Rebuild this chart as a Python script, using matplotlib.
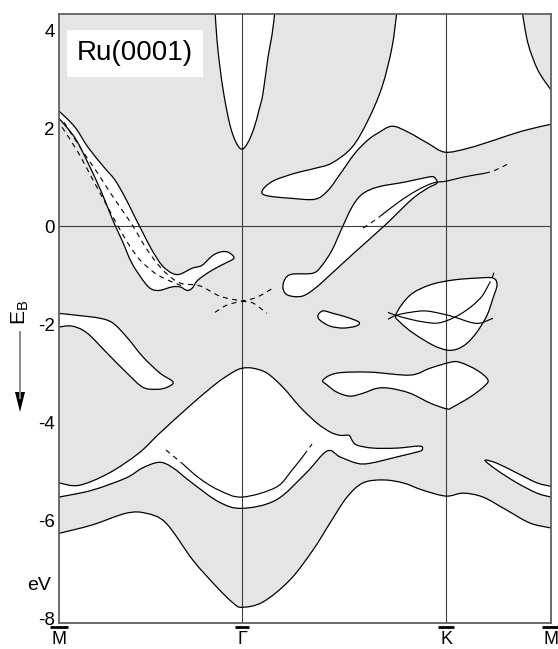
import numpy as np
import matplotlib
matplotlib.use('Agg')
import matplotlib.pyplot as plt
from matplotlib.path import Path
from matplotlib.patches import PathPatch, Rectangle, Polygon
from matplotlib.lines import Line2D
import matplotlib.transforms as mtrans

plt.rcParams['font.family'] = ['Liberation Sans', 'DejaVu Sans']
plt.rcParams['axes.unicode_minus'] = False
plt.rcParams['mathtext.fontset'] = 'custom'
plt.rcParams['mathtext.rm'] = 'Liberation Sans'
plt.rcParams['mathtext.it'] = 'Liberation Sans:italic'
plt.rcParams['mathtext.bf'] = 'Liberation Sans:bold'

# ---------------- data (k: distance along M-G-K-M path, arb. units; E: eV) ----
k_ticks = [0, 183, 387, 492]
k_labels = ['M', '\u0393', 'K', 'M']
E_ticks = [4, 2, 0, -2, -4, -6, -8]
E_lim = (-8.10, 4.33)

# white gap: parabola at Gamma (top)
gam_k = [156, 158, 161, 165, 171, 177, 183, 189, 195, 200, 204, 209, 213, 216]
gam_E = [4.40, 3.80, 3.24, 2.67, 2.06, 1.71, 1.57, 1.71, 2.00, 2.37, 2.71, 3.45, 3.90, 4.40]

# gray corner top-right (boundary)
tr_k = [463, 469, 479, 492]
tr_E = [4.40, 3.73, 3.18, 2.78]

# large white gap upper right: lower boundary
b_k = [338, 333, 323, 309, 293, 273, 256, 236, 216, 206, 203, 211, 231, 256, 269, 281,
       296, 309, 319, 333, 349, 369, 386, 409, 436, 463, 492]
b_E = [4.40, 3.65, 2.84, 2.16, 1.61, 1.29, 1.18, 1.08, 0.94, 0.80, 0.67, 0.61, 0.57, 0.55,
       0.73, 1.06, 1.49, 1.76, 1.90, 2.04, 1.92, 1.69, 1.51, 1.59, 1.76, 1.94, 2.08]

# tube from M (upper edge then lower edge)
tube_k = [0, 16, 29, 46, 56, 66, 76, 84, 93, 103, 113, 121, 133, 143, 153, 161, 169, 175,
          166, 153, 139, 133, 128, 121, 113, 101, 93, 86, 73, 63, 53, 43, 29, 16, 0]
tube_E = [2.35, 2.02, 1.61, 1.18, 0.94, 0.59, 0.18, -0.14, -0.49, -0.80, -0.96, -0.98,
          -0.86, -0.80, -0.61, -0.53, -0.53, -0.65,
          -0.76, -0.90, -1.10, -1.27, -1.31, -1.24, -1.24, -1.31, -1.29, -1.16, -0.76,
          -0.29, 0.16, 0.67, 1.29, 1.80, 2.20]

# dashed bands
d1_k = [5, 23, 38, 51, 63, 74, 84, 94, 106, 121, 141, 161, 183, 194, 208]
d1_E = [2.12, 1.55, 1.10, 0.69, 0.33, 0.00, -0.35, -0.65, -0.94, -1.16, -1.22, -1.43,
        -1.53, -1.57, -1.78]
d3_k = [3, 19, 33, 46, 58, 69, 81, 96, 111, 126]
d3_E = [2.02, 1.51, 0.98, 0.49, 0.04, -0.35, -0.69, -0.96, -1.12, -1.24]
d2_k = [156, 168, 183, 198, 216]
d2_E = [-1.76, -1.61, -1.53, -1.45, -1.24]

# fish-shaped gap between Gamma and K
fish_k = [224, 226, 233, 254, 263, 273, 283, 293, 303, 319, 346, 369, 375, 378, 369, 353,
          326, 296, 273, 256, 243, 229]
fish_E = [-1.27, -1.08, -0.98, -0.96, -0.80, -0.49, -0.04, 0.39, 0.65, 0.80, 0.90, 1.00,
          1.00, 0.88, 0.78, 0.55, 0.02, -0.53, -0.96, -1.27, -1.43, -1.41]

# surface state in fish gap
l1a_k = [304, 313, 321]
l1a_E = [-0.04, 0.08, 0.20]
l1_k = [321, 341, 358, 374, 388, 404, 426]
l1_E = [0.20, 0.51, 0.73, 0.88, 0.92, 1.00, 1.08]
l1b_k = [426, 436, 449]
l1b_E = [1.08, 1.14, 1.27]

# small elliptic gap
ell_k = [259, 264, 274, 288, 300, 297, 284, 271, 261]
ell_E = [-1.82, -1.73, -1.78, -1.86, -1.96, -2.04, -2.08, -2.04, -1.92]

# S1 pocket around K
s1_k = [337, 351, 371, 394, 418, 434, 438, 434, 428, 418, 408, 398, 388, 374, 354, 341]
s1_E = [-1.80, -1.41, -1.20, -1.10, -1.06, -1.06, -1.20, -1.47, -1.82, -2.16, -2.39,
        -2.51, -2.53, -2.43, -2.18, -1.96]
s1a_k = [329, 337, 351, 366, 378, 389, 401, 413, 423, 429]
s1a_E = [-1.76, -1.82, -1.90, -1.96, -1.98, -1.92, -1.80, -1.63, -1.43, -1.22]
s1ad_k = [429, 433, 435]
s1ad_E = [-1.22, -1.06, -0.94]
s1b_k = [329, 337, 351, 366, 381, 396, 411, 421, 434]
s1b_E = [-1.90, -1.82, -1.76, -1.73, -1.78, -1.86, -1.96, -1.98, -1.88]

# gap at M around -2.5 eV
g_k = [0, 18, 41, 54, 68, 84, 101, 114, 108, 98, 84, 68, 48, 28, 13, 0]
g_E = [-1.78, -1.82, -1.88, -1.98, -2.27, -2.67, -3.00, -3.18, -3.29, -3.33, -3.29,
       -3.00, -2.59, -2.18, -2.04, -2.06]

# island gap near K around -3.2 eV
isl_k = [264, 278, 311, 351, 371, 391, 401, 418, 429, 424, 411, 394, 388, 371, 351, 331,
         318, 304, 291, 278, 268]
isl_E = [-3.14, -3.00, -2.98, -3.04, -2.90, -2.78, -2.78, -2.94, -3.14, -3.29, -3.49,
         -3.69, -3.73, -3.61, -3.41, -3.31, -3.31, -3.41, -3.47, -3.39, -3.24]

# big gap around Gamma (-3 .. -5.8 eV)
h_k = [0, 20, 50, 80, 101, 134, 158, 174, 183, 194, 208, 224, 241, 258, 271, 281, 290, 293,
       298, 314, 338, 361, 363,
       358, 338, 311, 298, 281, 268, 247, 217, 183, 160, 133, 113, 100, 83, 67, 33, 0]
h_E = [-5.24, -5.29, -5.04, -4.63, -4.22, -3.61, -3.20, -2.98, -2.90, -2.90, -3.00, -3.29,
       -3.69, -4.02, -4.20, -4.27, -4.27, -4.37, -4.47, -4.53, -4.53, -4.49, -4.57,
       -4.61, -4.71, -4.84, -4.84, -4.71, -4.59, -5.04, -5.59, -5.76, -5.63, -5.24, -4.92,
       -4.82, -4.94, -5.14, -5.39, -5.53]

# S2 surface state
s2a_k = [107, 123]
s2a_E = [-4.57, -4.84]
s2_k = [123, 140, 160, 183, 217, 233, 245]
s2_E = [-4.84, -5.14, -5.39, -5.53, -5.33, -4.98, -4.67]
s2b_k = [245, 253]
s2b_E = [-4.67, -4.45]

# bottom of the projected bulk bands
bot_k = [0, 33, 67, 87, 107, 134, 158, 174, 183, 204, 231, 254, 271, 288, 304, 324, 344,
         364, 387, 404, 424, 448, 471, 492]
bot_E = [-6.27, -6.10, -5.86, -5.86, -6.06, -6.82, -7.37, -7.69, -7.78, -7.67, -7.22,
         -6.61, -6.06, -5.53, -5.24, -5.18, -5.24, -5.39, -5.51, -5.45, -5.53, -5.80,
         -6.06, -6.16]

# tongue gap at right M
rt_k = [492, 478, 458, 438, 426, 438, 458, 478, 492]
rt_E = [-5.31, -5.24, -5.04, -4.84, -4.78, -4.98, -5.24, -5.45, -5.53]

# ---------------- helpers ----------------
def curve(k, E, closed=False):
    P = np.column_stack([k, E]).astype(float)
    n = len(P)
    verts = [P[0]]
    codes = [Path.MOVETO]
    segs = n if closed else n - 1
    for i in range(segs):
        p1 = P[i % n]
        p2 = P[(i + 1) % n]
        if closed:
            p0 = P[(i - 1) % n]
            p3 = P[(i + 2) % n]
        else:
            p0 = P[i - 1] if i > 0 else p1
            p3 = P[i + 2] if i + 2 < n else p2
        c1 = p1 + (p2 - p0) / 6.0
        c2 = p2 - (p3 - p1) / 6.0
        verts += [c1, c2, p2]
        codes += [Path.CURVE4] * 3
    return verts, codes


def closepath(v, c):
    return v + [v[0]], c + [Path.CLOSEPOLY]


GRAY = '#e4e5e7'
LW = 0.9

fig = plt.figure(figsize=(5.58, 6.49), dpi=100)
ax = fig.add_axes([59 / 558, 26 / 649, 492 / 558, 609 / 649])
ax.set_facecolor(GRAY)
ax.set_xlim(k_ticks[0], k_ticks[-1])
ax.set_ylim(*E_lim)


def fill(v, c):
    ax.add_patch(PathPatch(Path(v, c), fc='white', ec='none', lw=0, zorder=1))


def outline(v, c, ls='-', lw=LW):
    ax.add_patch(PathPatch(Path(v, c), fc='none', ec='black', lw=lw, ls=ls,
                           zorder=3, capstyle='butt', joinstyle='round'))


DASH = (0, (4.5, 4.0))

# Gamma parabola
v, c = curve(gam_k, gam_E)
fill(*closepath(v, c))
outline(v, c)

# big upper-right gap
v1, c1 = curve(b_k, b_E)
v2, c2 = curve(tr_k[::-1], tr_E[::-1])
c2 = [Path.LINETO] + c2[1:]
fill(v1 + v2 + [v1[0]], c1 + c2 + [Path.CLOSEPOLY])
outline(v1, c1)
outline(*curve(tr_k, tr_E))

# gaps touching the frame
for kk, ee in [(tube_k, tube_E), (g_k, g_E), (h_k, h_E), (rt_k, rt_E)]:
    v, c = curve(kk, ee)
    fill(*closepath(v, c))
    outline(v, c)

# islands
for kk, ee in [(fish_k, fish_E), (ell_k, ell_E), (s1_k, s1_E), (isl_k, isl_E)]:
    v, c = curve(kk, ee, closed=True)
    v, c = closepath(v, c)
    fill(v, c)
    outline(v, c)

# bottom white
v, c = curve(bot_k, bot_E)
vb = v + [np.array([bot_k[-1], E_lim[0] - 1]), np.array([bot_k[0], E_lim[0] - 1]), v[0]]
cb = c + [Path.LINETO, Path.LINETO, Path.CLOSEPOLY]
fill(vb, cb)
outline(v, c)

# surface states (solid) and dashed lines
for kk, ee in [(l1_k, l1_E), (s1a_k, s1a_E), (s1b_k, s1b_E), (s2_k, s2_E)]:
    outline(*curve(kk, ee), lw=0.85)
for kk, ee in [(d1_k, d1_E), (d3_k, d3_E), (d2_k, d2_E), (l1a_k, l1a_E), (l1b_k, l1b_E),
               (s1ad_k, s1ad_E), (s2a_k, s2a_E), (s2b_k, s2b_E)]:
    outline(*curve(kk, ee), ls=DASH, lw=0.8)

# reference lines
for kx in k_ticks[1:3]:
    ax.axvline(kx, color='#3c3c3c', lw=0.8, zorder=2)
ax.axhline(0, color='#3c3c3c', lw=0.8, zorder=2)

# axes styling
for s in ax.spines.values():
    s.set_color('#606060')
    s.set_linewidth(1.3)
    s.set_zorder(6)
ax.set_yticks(E_ticks)
ax.set_yticklabels([str(t) for t in E_ticks])
ax.tick_params(axis='y', length=0, pad=3, labelsize=13.5)
ax.set_xticks(k_ticks)
ax.set_xticklabels(k_labels)
ax.tick_params(axis='x', length=0, pad=5.5, labelsize=13)

# overbars on the symmetry-point labels
trans = mtrans.blended_transform_factory(ax.transData, ax.transAxes)
for kx, hw in zip(k_ticks, [9, 7, 8, 9]):
    ax.add_line(Line2D([kx - hw, kx + hw], [-0.0072, -0.0072], transform=trans,
                       color='black', lw=2.0, solid_capstyle='butt', clip_on=False))

# label box
ax.add_patch(Rectangle((0.016, 0.897), 0.277, 0.077, transform=ax.transAxes,
                       fc='white', ec='none', zorder=5))
ax.text(0.154, 0.936, 'Ru(0001)', transform=ax.transAxes, ha='center', va='center',
        fontsize=20, zorder=6)

# axis label E_B with arrow, and eV
fig.text(20 / 558, 1 - 312 / 649, 'E$_\\mathrm{B}$', rotation=90, fontsize=15,
         ha='center', va='center')
fig.add_artist(Line2D([20 / 558, 20 / 558], [1 - 332 / 649, 1 - 398 / 649],
                      color='#8a8a8a', lw=1.4, transform=fig.transFigure))
fig.add_artist(Polygon([[15 / 558, 1 - 392 / 649], [25 / 558, 1 - 392 / 649],
                        [20 / 558, 1 - 412 / 649]], closed=True, fc='black', ec='none',
                       transform=fig.transFigure))
fig.text(39 / 558, 1 - 585 / 649, 'eV', fontsize=14, ha='center', va='center')

fig.savefig('out.png', dpi=100)
